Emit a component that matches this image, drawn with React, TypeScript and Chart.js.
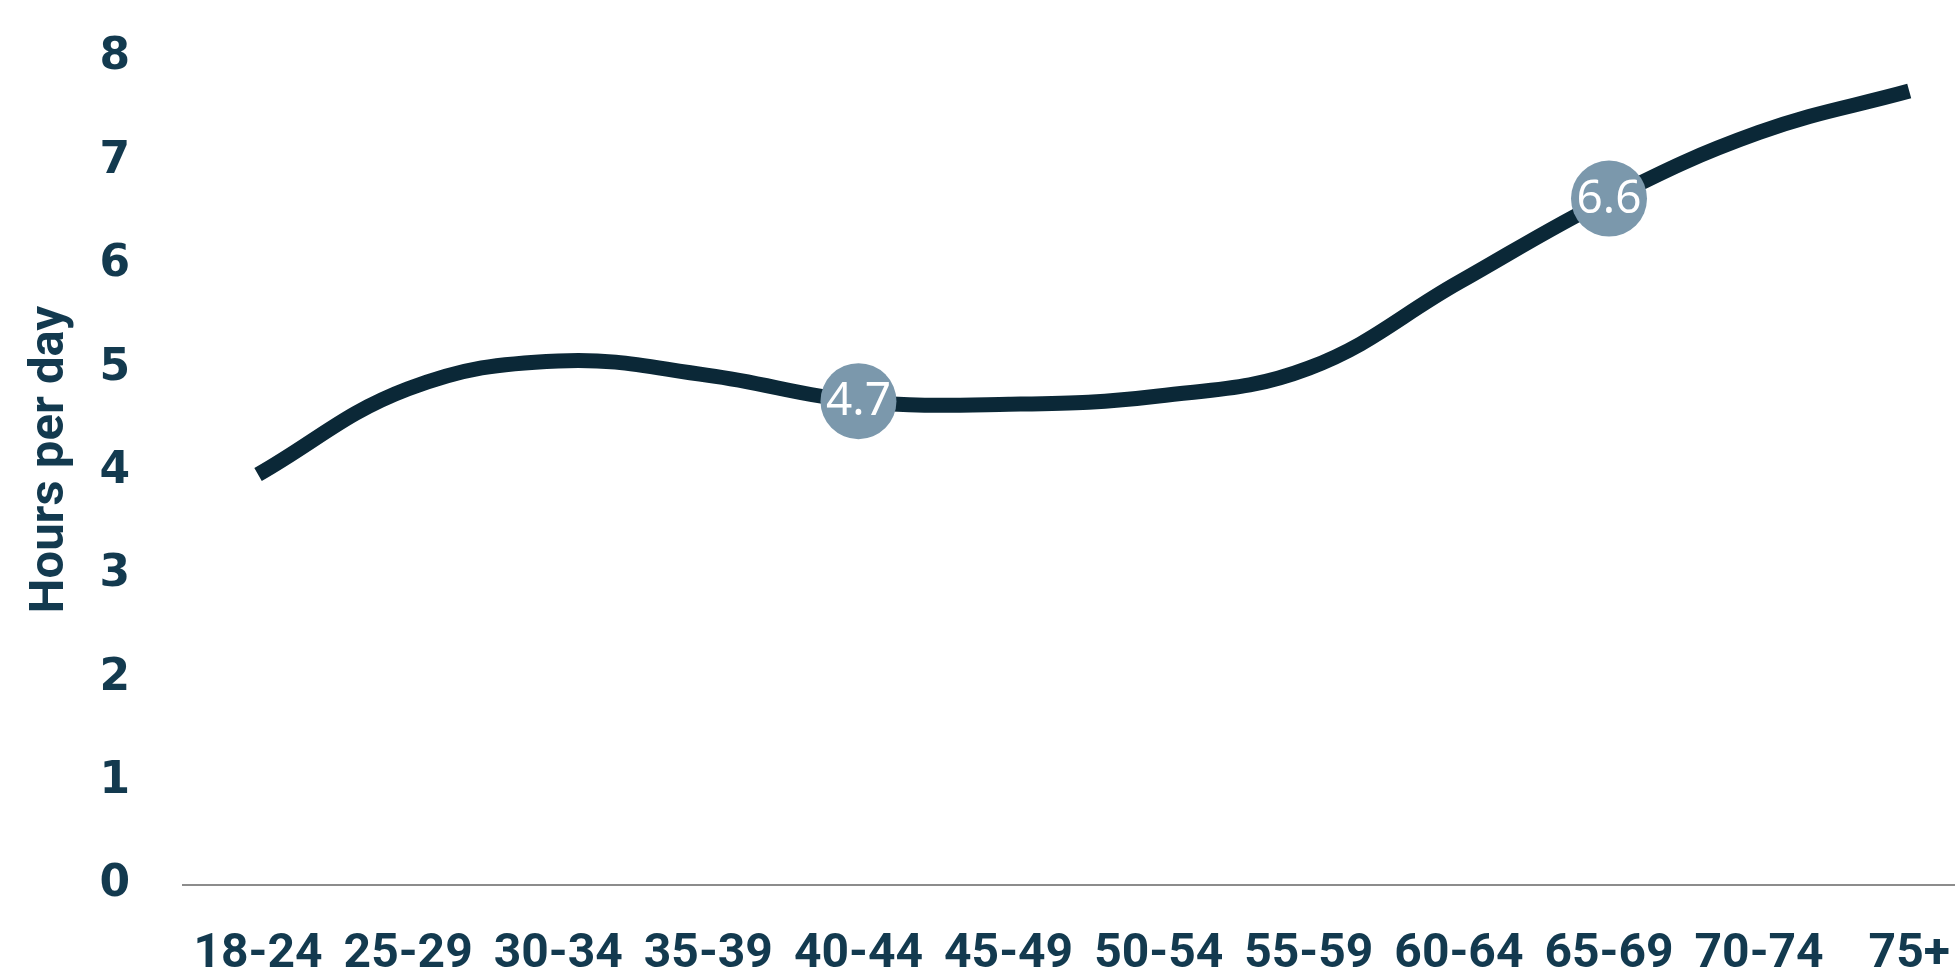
import { useEffect, useRef } from "react";
import { Chart, registerables } from "chart.js";

Chart.register(...registerables);

const categories = ["18-24", "25-29", "30-34", "35-39", "40-44", "45-49", "50-54", "55-59", "60-64", "65-69", "70-74", "75+"];
const hoursPerDay = [3.97, 4.8, 5.07, 4.93, 4.68, 4.65, 4.73, 5.0, 5.83, 6.64, 7.28, 7.68];
const labelledPoints = [4, 9];
const yTickValues = [0, 1, 2, 3, 4, 5, 6, 7, 8];
const yTitle = "Hours per day";

const TEXT_COLOR = "#133A4F";
const LINE_COLOR = "#0B2837";
const MARKER_COLOR = "#7B98AC";
const LABEL_FONT = "Roboto, 'Open Sans', sans-serif";

const markerLabels = {
  id: "markerLabels",
  afterDatasetsDraw(chart: any) {
    const meta = chart.getDatasetMeta(0);
    const ctx = chart.ctx;
    ctx.save();
    ctx.fillStyle = "#FFFFFF";
    ctx.font = "46px 'Noto Sans'";
    ctx.textAlign = "center";
    ctx.textBaseline = "middle";
    labelledPoints.forEach((i) => {
      const el = meta.data[i];
      ctx.fillText(hoursPerDay[i].toFixed(1), el.x, el.y + 1);
    });
    ctx.restore();
  },
};

// Y-axis title, centred slightly above the plot-area middle as in the original
const axisTitle = {
  id: "axisTitle",
  afterDraw(chart: any) {
    const { ctx, chartArea } = chart;
    const cy = (chartArea.top + chartArea.bottom) / 2 - 12;
    ctx.save();
    ctx.translate(51, cy);
    ctx.rotate(-Math.PI / 2);
    ctx.fillStyle = TEXT_COLOR;
    ctx.font = `bold 49px ${LABEL_FONT}`;
    ctx.textAlign = "center";
    ctx.textBaseline = "middle";
    ctx.fillText(yTitle, 0, 0);
    ctx.restore();
  },
};

export default function App() {
  const ref = useRef<HTMLCanvasElement>(null);

  useEffect(() => {
    const canvas = ref.current;
    if (!canvas) return;
    const chart = new Chart(canvas, {
      type: "line",
      data: {
        datasets: [
          {
            data: hoursPerDay.map((v, i) => ({ x: i, y: v })),
            borderColor: LINE_COLOR,
            borderWidth: 15,
            borderCapStyle: "butt",
            borderJoinStyle: "round",
            tension: 0.4,
            fill: false,
            pointRadius: hoursPerDay.map((_, i) => (labelledPoints.includes(i) ? 38 : 0)),
            pointHoverRadius: hoursPerDay.map((_, i) => (labelledPoints.includes(i) ? 38 : 0)),
            pointBackgroundColor: MARKER_COLOR,
            pointBorderWidth: 0,
            pointStyle: "circle",
          },
        ],
      },
      options: {
        animation: false,
        responsive: false,
        devicePixelRatio: 1,
        events: [],
        layout: { padding: { top: 58, right: 0, bottom: 0, left: 0 } },
        plugins: {
          legend: { display: false },
          tooltip: { enabled: false },
        },
        scales: {
          x: {
            type: "linear",
            min: -0.5,
            max: 11.305,
            afterBuildTicks: (scale: any) => {
              scale.ticks = categories.map((_, i) => ({ value: i }));
            },
            afterFit: (scale: any) => {
              scale.height = 91;
              scale.paddingLeft = 0;
              scale.paddingRight = 0;
            },
            grid: { display: false, drawTicks: false },
            border: { display: true, color: "#8C8C8C", width: 2 },
            ticks: {
              autoSkip: false,
              maxRotation: 0,
              padding: 46,
              color: TEXT_COLOR,
              font: { family: LABEL_FONT, size: 48, weight: "bold", lineHeight: 1 },
              callback: (value: any) => categories[value] ?? "",
            },
          },
          y: {
            type: "linear",
            min: 0,
            max: 8,
            afterBuildTicks: (scale: any) => {
              scale.ticks = yTickValues.map((v) => ({ value: v }));
            },
            afterFit: (scale: any) => {
              scale.width = 183;
              scale.paddingTop = 0;
              scale.paddingBottom = 0;
            },
            grid: { display: false, drawTicks: false },
            border: { display: false },
            ticks: {
              padding: 53,
              color: TEXT_COLOR,
              font: { family: "'DejaVu Sans'", size: 44, weight: "bold", lineHeight: 1 },
            },
            title: { display: false },
          },
        },
      },
      plugins: [markerLabels, axisTitle],
    });
    return () => chart.destroy();
  }, []);

  return (
    <div style={{ position: "fixed", left: 0, top: 0, width: 1955, height: 976, background: "#FFFFFF" }}>
      <canvas ref={ref} width={1955} height={976} style={{ display: "block", width: 1955, height: 976 }} />
    </div>
  );
}
